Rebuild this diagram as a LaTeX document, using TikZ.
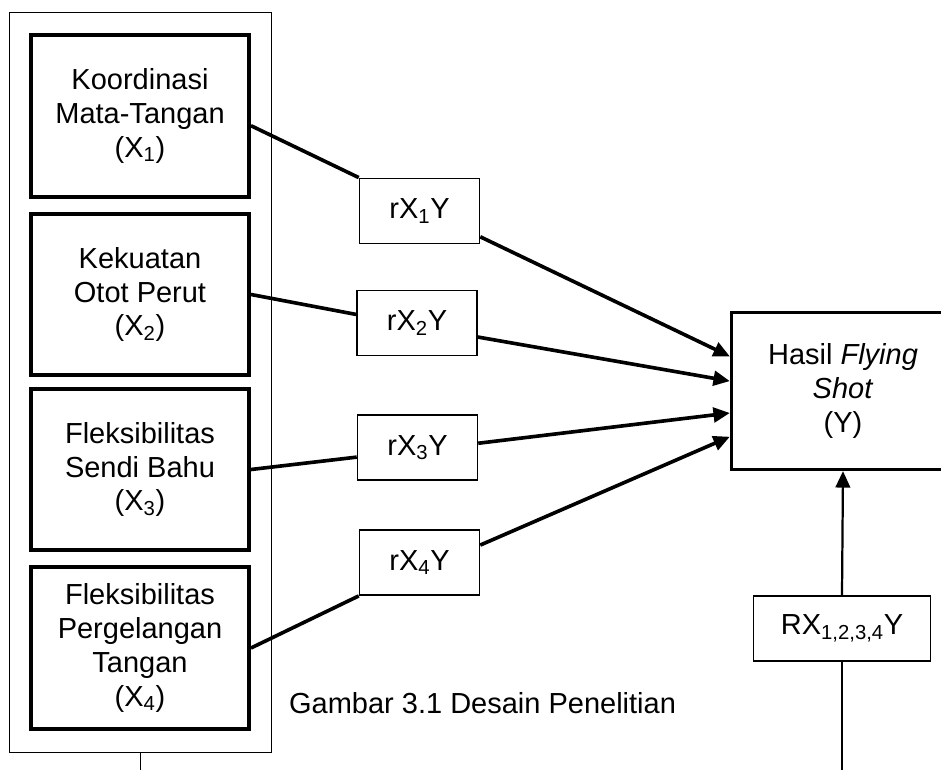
\documentclass[tikz,border=0pt]{standalone}
\usepackage{fontspec}
\setmainfont{Liberation Sans}
\usepackage{tikz}
\usetikzlibrary{arrows.meta}

\tikzset{
  frame/.style={draw, line width=1.1pt, minimum width=7.85cm, minimum height=22.19cm, inner sep=0pt},
  xbox/.style={draw, line width=3.4pt, minimum width=6.54cm, minimum height=4.85cm, align=center, inner sep=0pt},
  rbox/.style={draw, line width=1.3pt, minimum width=3.6cm, minimum height=1.96cm, inner sep=0pt},
  ybox/.style={draw, line width=2.8pt, minimum width=6.69cm, minimum height=4.71cm, align=center, inner sep=0pt},
  link/.style={line width=3.1pt},
  arrow/.style={line width=3.1pt, -{Triangle[length=14pt,width=12.5pt]}},
  vline/.style={line width=1.9pt}
}

\begin{document}
\begin{tikzpicture}[x=0.03cm, y=0.03cm, font=\fontsize{24.75pt}{29pt}\selectfont]
\clip (0,0) rectangle (941,770);
%\draw[step=50,gray,very thin] (0,0) grid (941,770);

% left column
\node[frame] (frame) at (140.5,387.5) {};
\node[xbox] (X1) at (140,654) {Koordinasi\\Mata-Tangan\\(X\textsubscript{1})};
\node[xbox] (X2) at (140,475.5) {Kekuatan\\Otot Perut\\(X\textsubscript{2})};
\node[xbox] (X3) at (140,300.5) {Fleksibilitas\\Sendi Bahu\\(X\textsubscript{3})};
\node[xbox] (X4) at (140,122) {Fleksibilitas\\Pergelangan\\Tangan\\(X\textsubscript{4})};
\coordinate (frameend) at (140.5,0);

% correlations
\node[rbox] (r1) at (419.5,559) {rX\textsubscript{1}Y};
\node[rbox] (r2) at (417,447) {rX\textsubscript{2}Y};
\node[rbox] (r3) at (417.5,322.5) {rX\textsubscript{3}Y};
\node[rbox] (r4) at (419.5,207.5) {rX\textsubscript{4}Y};

% dependent variable
\node[ybox] (Y) at (843,379) {Hasil \textit{Flying}\\\textit{Shot}\\(Y)};
\node[rbox, minimum width=5.3cm] (R) at (842,141.5) {RX\textsubscript{1,2,3,4}Y};
\coordinate (rend) at (842,0);

\node[anchor=west] (caption) at (285,67) {Gambar 3.1 Desain Penelitian};

\draw[line width=1.1pt] (frame.south) -- (frameend);

\draw[link] (X1.-5) -- (r1.north west);
\draw[link] (X2.east) -- (r2.172);
\draw[link] (X3.east) -- (r3.189);
\draw[link] (X4.east) -- (r4.south west);

\draw[arrow] (r1.-23) -- (Y.163);
\draw[arrow] (r2.-13) -- (Y.175);
\draw[arrow] (r3.4) -- (Y.191);
\draw[arrow] (r4.16) -- (Y.202);

\draw[vline] (rend) -- (R.south);
\draw[vline, -{Triangle[length=14pt,width=12.5pt]}] (R.north) -- (Y.south);
\end{tikzpicture}
\end{document}
